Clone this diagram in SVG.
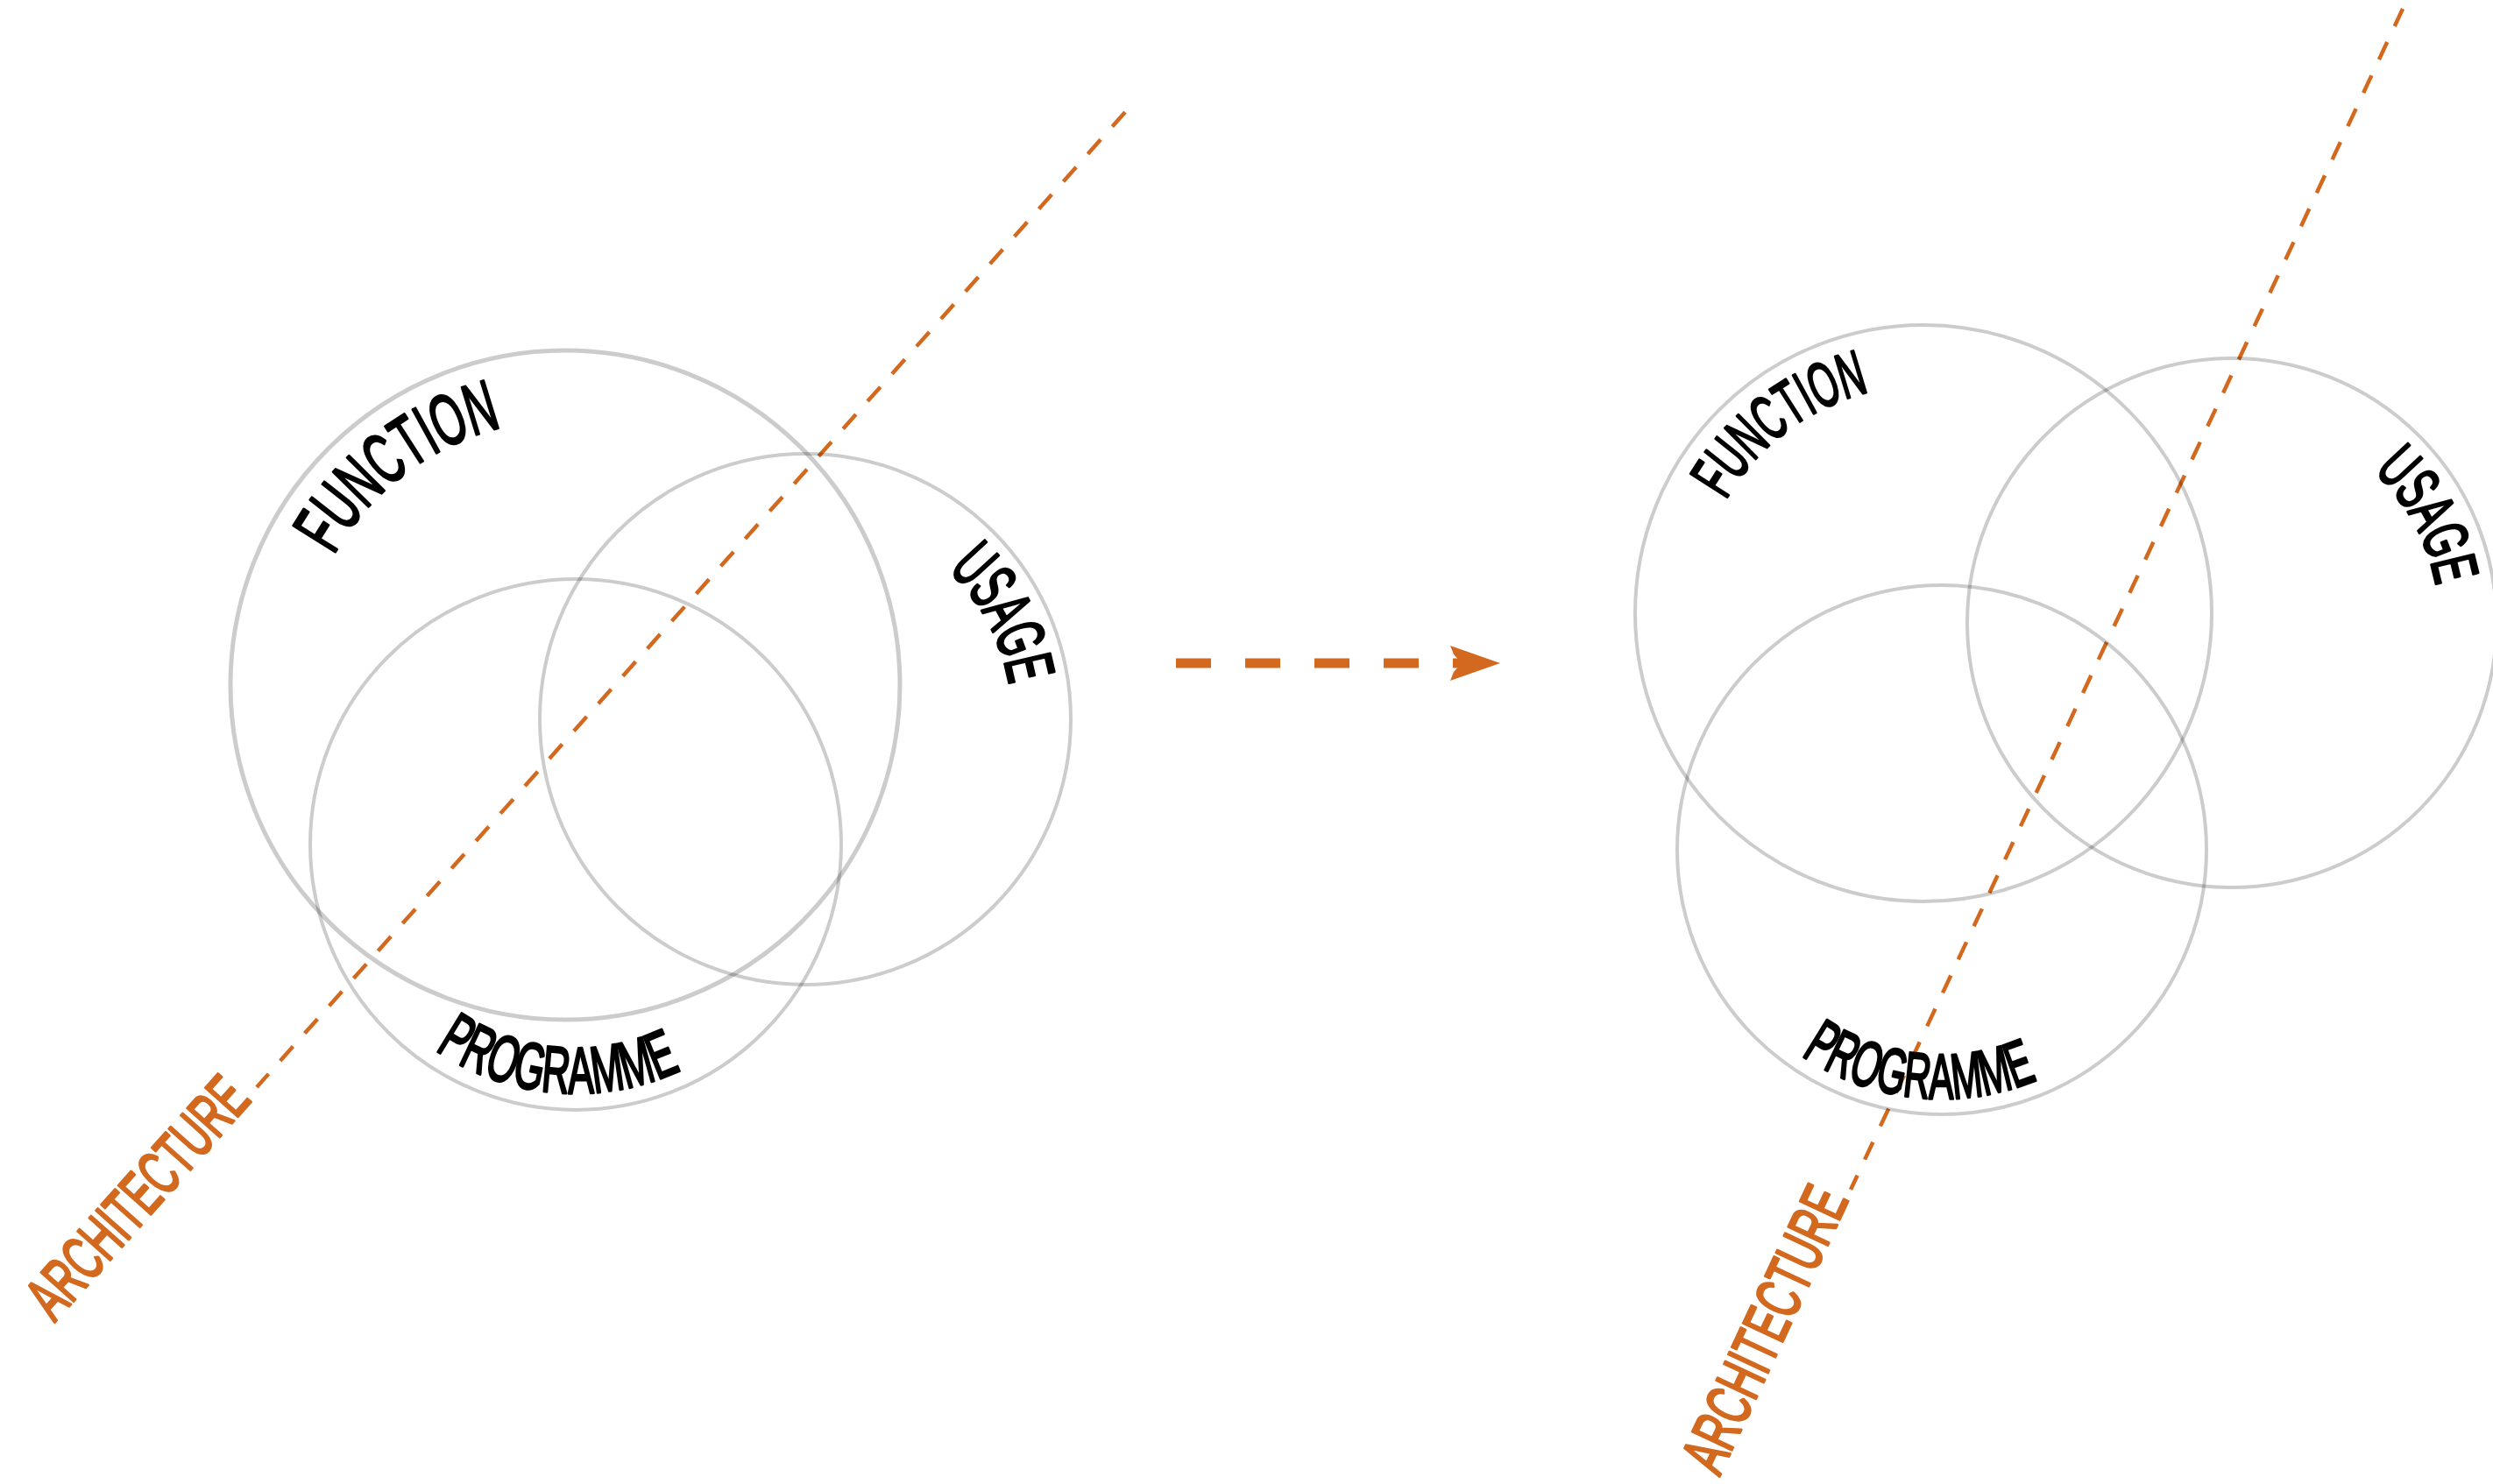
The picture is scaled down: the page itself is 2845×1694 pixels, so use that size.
<svg xmlns="http://www.w3.org/2000/svg" xmlns:xlink="http://www.w3.org/1999/xlink" width="2845" height="1694" viewBox="0 0 2845 1694">
<style>
.ring{fill:none;stroke:#000;stroke-opacity:0.2;stroke-width:4}
.ring-big{stroke-width:5}
.lbl{font-family:"Liberation Sans Narrow","Liberation Sans",Arial,sans-serif;fill:#000;stroke:#000;stroke-width:3;stroke-linejoin:round;text-anchor:middle}
.arch{font-family:"Liberation Sans Narrow","Liberation Sans",Arial,sans-serif;fill:#D2691E;stroke:#D2691E;stroke-width:3;stroke-linejoin:round;font-size:72px}
.axis{fill:none;stroke:#D2691E;stroke-width:4.5;stroke-dasharray:22 20}
.arrow-line{fill:none;stroke:#D2691E;stroke-width:11;stroke-dasharray:40 39}
.arrow-head{fill:#D2691E}
</style>
<defs>
<path id="pFL" d="M 342,782 A 303 303 0 1 1 948,782 A 303 303 0 1 1 342,782"/>
<path id="pUL" d="M 683,821 A 236 236 0 1 1 1155,821 A 236 236 0 1 1 683,821"/>
<path id="pPL" d="M 373,964 A 284 284 0 1 0 941,964 A 284 284 0 1 0 373,964"/>
<path id="pFR" d="M 1935,700 A 260 260 0 1 1 2455,700 A 260 260 0 1 1 1935,700"/>
<path id="pUR" d="M 2310,711 A 237 237 0 1 1 2784,711 A 237 237 0 1 1 2310,711"/>
<path id="pPR" d="M 1932,970 A 284 284 0 1 0 2500,970 A 284 284 0 1 0 1932,970"/>
</defs>
<rect width="2845" height="1694" fill="#fff"/>

<g id="connectors">
<line class="axis" x1="1284" y1="128" x2="293" y2="1241"/>
<line class="axis" x1="2742" y1="10" x2="2112" y2="1358"/>
<g id="transition-arrow">
<line class="arrow-line" x1="1342" y1="757" x2="1668" y2="757"/>
<polygon class="arrow-head" points="1712,757 1655,737 1659,747 1668,757 1659,767 1655,777"/>
</g>
</g>

<g id="before">
<g id="function-left">
<circle class="ring ring-big" cx="645" cy="782" r="382"/>
<text class="lbl" font-size="82"><textPath xlink:href="#pFL" href="#pFL" startOffset="278.7" textLength="248" lengthAdjust="spacingAndGlyphs">FUNCTION</textPath></text>
</g>
<g id="usage-left">
<circle class="ring" cx="919" cy="821" r="303"/>
<text class="lbl" font-size="77"><textPath xlink:href="#pUL" href="#pUL" startOffset="626" textLength="152" lengthAdjust="spacingAndGlyphs">USAGE</textPath></text>
</g>
<g id="programme-left">
<circle class="ring" cx="657" cy="964" r="303"/>
<text class="lbl" font-size="75"><textPath xlink:href="#pPL" href="#pPL" startOffset="422.8" textLength="295" lengthAdjust="spacingAndGlyphs">PROGRAMME</textPath></text>
</g>
<g id="architecture-left">
<text class="arch" transform="translate(62,1510) rotate(-48.32)" textLength="340" lengthAdjust="spacingAndGlyphs">ARCHITECTURE</text>
</g>
</g>

<g id="after">
<g id="function-right">
<circle class="ring" cx="2195" cy="700" r="329"/>
<text class="lbl" font-size="72"><textPath xlink:href="#pFR" href="#pFR" startOffset="240.5" textLength="211" lengthAdjust="spacingAndGlyphs">FUNCTION</textPath></text>
</g>
<g id="usage-right">
<circle class="ring" cx="2547" cy="711" r="302"/>
<text class="lbl" font-size="72"><textPath xlink:href="#pUR" href="#pUR" startOffset="626" textLength="152" lengthAdjust="spacingAndGlyphs">USAGE</textPath></text>
</g>
<g id="programme-right">
<circle class="ring" cx="2216" cy="970" r="302"/>
<text class="lbl" font-size="73"><textPath xlink:href="#pPR" href="#pPR" startOffset="416.9" textLength="283" lengthAdjust="spacingAndGlyphs">PROGRAMME</textPath></text>
</g>
<g id="architecture-right">
<text class="arch" transform="translate(1962,1686) rotate(-64.95)" textLength="350" lengthAdjust="spacingAndGlyphs">ARCHITECTURE</text>
</g>
</g>
</svg>
